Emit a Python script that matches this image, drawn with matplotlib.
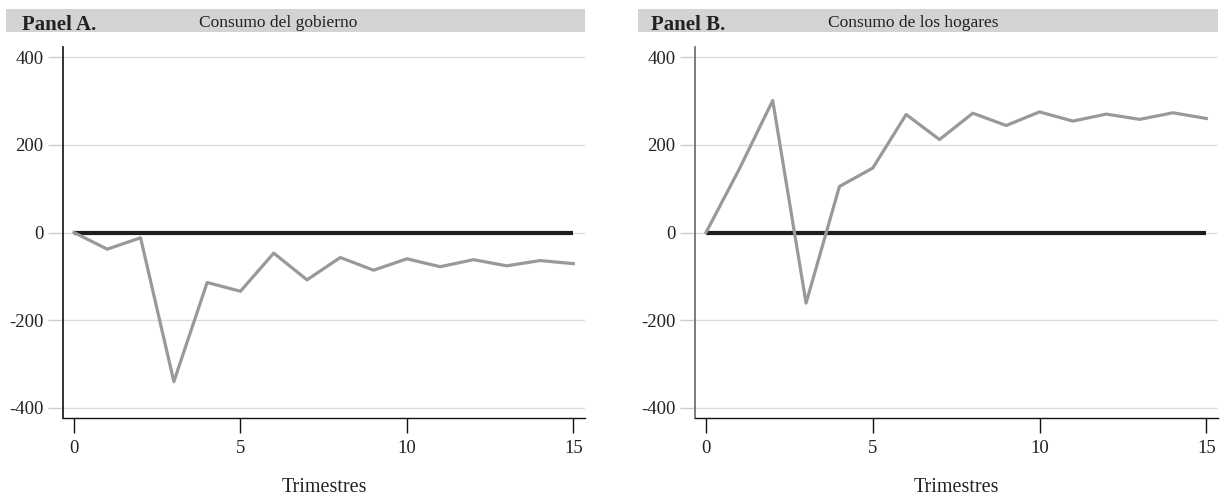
import numpy as np
import matplotlib.pyplot as plt
from matplotlib.patches import Rectangle

# trimestres 0..15
trimestres = list(range(16))
gobierno = [0, -38, -12, -340, -114, -134, -47, -108, -57, -86, -60, -78, -62, -76, -64, -71]
hogares = [0, 145, 301, -161, 105, 147, 269, 212, 272, 244, 275, 254, 270, 258, 273, 260]
paneles = ["Panel A.", "Panel B."]
titulos = ["Consumo del gobierno", "Consumo de los hogares"]
yticks = [-400, -200, 0, 200, 400]
xticks = [0, 5, 10, 15]

plt.rcParams['font.family'] = ['Liberation Serif', 'DejaVu Serif']

W, H = 1225, 495
fig = plt.figure(figsize=(W / 100, H / 100), dpi=100)

# posiciones en pixeles: (izq, der) de cada eje y de la banda gris
ejes_px = [(63, 585), (695, 1218)]
banda_px = [(6, 585), (638, 1218)]
titulo_x = [278, 913]
panel_x = [22, 651]
spine_col = ['#111111', '#666666']

for i, serie in enumerate([gobierno, hogares]):
    l, r = ejes_px[i]
    ax = fig.add_axes([l / W, 1 - 418 / H, (r - l) / W, (418 - 47) / H])
    ax.plot(trimestres, [0] * len(trimestres), color='#1e1e1e', lw=3.0,
            solid_capstyle='butt', zorder=3)
    ax.plot(trimestres, serie, color='#999999', lw=2.3, zorder=4)
    ax.set_xlim(-0.33, 15.35)
    ax.set_ylim(-423, 423)
    ax.set_xticks(xticks)
    ax.set_yticks(yticks)
    ax.set_yticklabels([str(v) for v in yticks])
    ax.grid(axis='y', color='#dddddd', lw=1.0)
    ax.set_axisbelow(True)
    for s in ['top', 'right']:
        ax.spines[s].set_visible(False)
    ax.spines['left'].set_color(spine_col[i])
    ax.spines['bottom'].set_color('#111111')
    ax.spines['left'].set_linewidth(1.2)
    ax.spines['bottom'].set_linewidth(1.0)
    ax.tick_params(axis='y', length=11, width=1.0, color='#cccccc',
                   labelsize=13.5, pad=3, labelcolor='#222222')
    ax.tick_params(axis='x', length=11, width=1.0, color='#111111',
                   labelsize=13.5, pad=5, labelcolor='#222222')
    ax.set_xlabel("Trimestres", fontsize=14.5, labelpad=15, color='#222222')

    bl, br = banda_px[i]
    fig.patches.append(Rectangle((bl / W, 1 - 32 / H), (br - bl) / W, 23 / H,
                                 transform=fig.transFigure, facecolor='#d3d3d3',
                                 edgecolor='none', zorder=0))
    fig.text(panel_x[i] / W, 1 - 30 / H, paneles[i], fontsize=15,
             fontweight='bold', ha='left', va='baseline', color='#222222')
    fig.text(titulo_x[i] / W, 1 - 27 / H, titulos[i], fontsize=12.5,
             ha='center', va='baseline', color='#222222')

fig.savefig("out.png", dpi=100)
